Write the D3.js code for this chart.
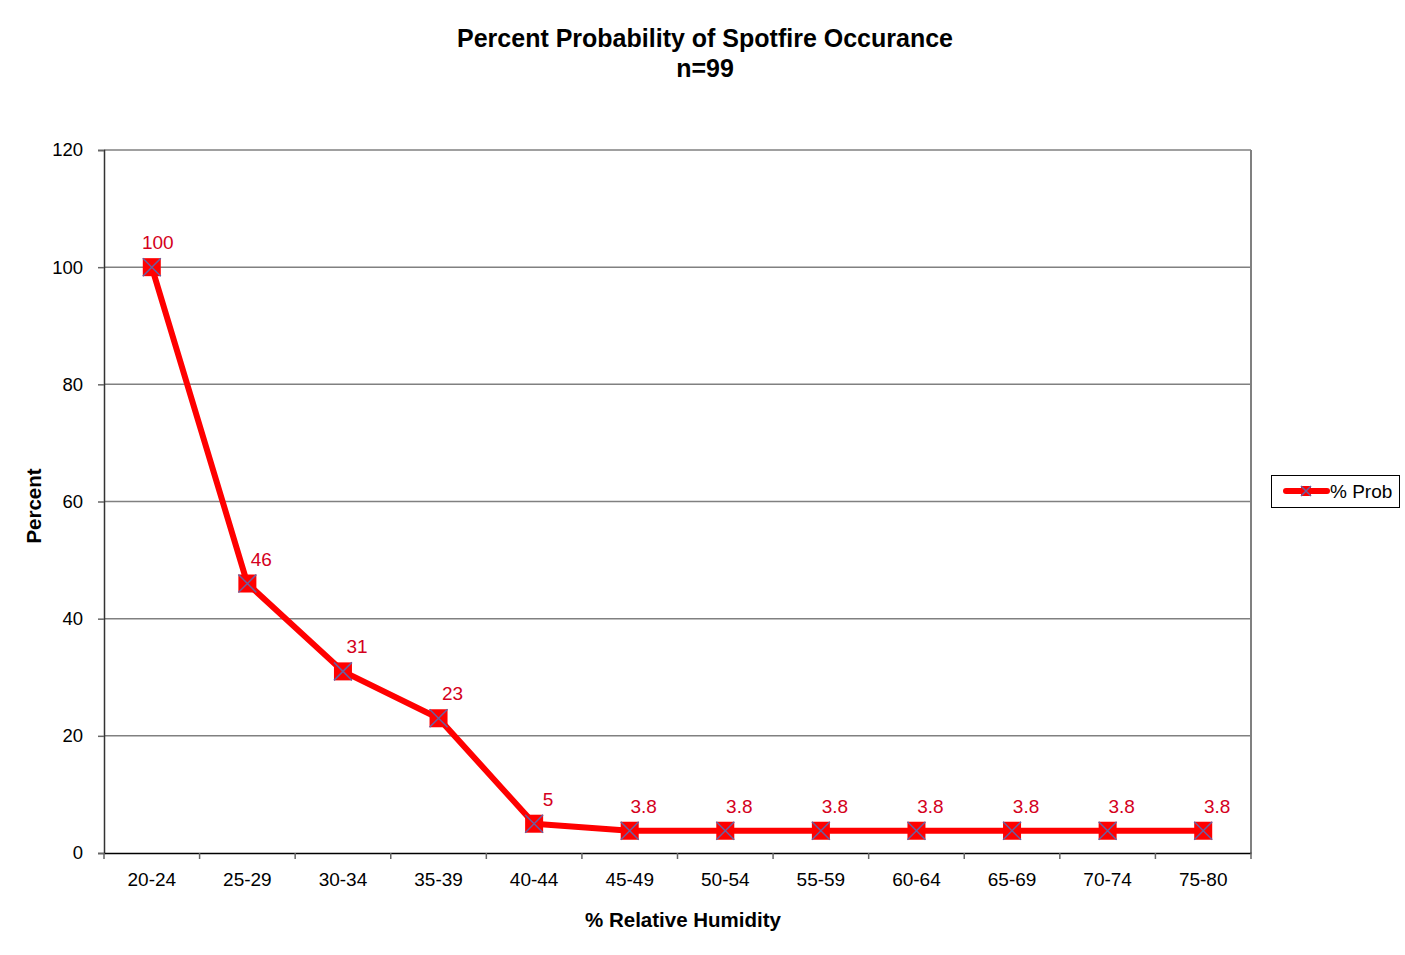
<!DOCTYPE html>
<html>
<head>
<meta charset="utf-8">
<script src="https://cdn.jsdelivr.net/npm/d3@7"></script>
<style>
  body { margin: 0; background: #fff; }
  svg text { font-family: "Liberation Sans", Arial, sans-serif; }
</style>
</head>
<body>
<svg id="chart"></svg>
<script>
var categories = ["20-24", "25-29", "30-34", "35-39", "40-44", "45-49", "50-54", "55-59", "60-64", "65-69", "70-74", "75-80"];
var probValues = [100, 46, 31, 23, 5, 3.8, 3.8, 3.8, 3.8, 3.8, 3.8, 3.8];
var yTicks = [0, 20, 40, 60, 80, 100, 120];

var svgWidth = 1405, svgHeight = 955;
var plotLeft = 104, plotRight = 1251, plotTop = 150, plotBottom = 853;

var svg = d3.select("#chart")
  .attr("width", svgWidth)
  .attr("height", svgHeight);

var xScale = d3.scaleBand()
  .domain(categories)
  .range([plotLeft, plotRight]);

var yScale = d3.scaleLinear()
  .domain([0, 120])
  .range([plotBottom, plotTop]);

// gridlines
svg.append("g")
  .selectAll("line")
  .data(yTicks.filter(function(d) { return d > 0; }))
  .enter()
  .append("line")
  .attr("x1", plotLeft).attr("x2", plotRight)
  .attr("y1", function(d) { return yScale(d); })
  .attr("y2", function(d) { return yScale(d); })
  .attr("stroke", "#808080")
  .attr("stroke-width", 1.5);

// right border
svg.append("line")
  .attr("x1", plotRight).attr("x2", plotRight)
  .attr("y1", plotTop).attr("y2", plotBottom)
  .attr("stroke", "#808080")
  .attr("stroke-width", 2);

// y axis
var yAxis = d3.axisLeft(yScale).tickValues(yTicks).tickSize(6).tickPadding(15);
var gy = svg.append("g")
  .attr("transform", "translate(" + plotLeft + ",0)")
  .call(yAxis);
gy.select(".domain").attr("stroke", "#333").attr("stroke-width", 1.5);
gy.selectAll(".tick line").attr("stroke", "#666").attr("stroke-width", 1.5);
gy.selectAll("text").attr("font-size", 18.5).attr("fill", "#000")
  .attr("font-family", "Liberation Sans, Arial, sans-serif");

// x axis
var xAxis = d3.axisBottom(xScale).tickSize(0).tickPadding(20);
var gx = svg.append("g")
  .attr("transform", "translate(0," + plotBottom + ")")
  .call(xAxis);
gx.select(".domain").attr("stroke", "#000").attr("stroke-width", 1.5);
gx.selectAll("text").attr("font-size", 19).attr("fill", "#000")
  .attr("font-family", "Liberation Sans, Arial, sans-serif");

// category boundary ticks
var boundaries = categories.map(function(c) { return xScale(c); }).concat([plotRight]);
svg.append("g")
  .selectAll("line")
  .data(boundaries)
  .enter()
  .append("line")
  .attr("x1", function(d) { return d; })
  .attr("x2", function(d) { return d; })
  .attr("y1", plotBottom).attr("y2", plotBottom + 6)
  .attr("stroke", "#666")
  .attr("stroke-width", 1.5);

// line
var line = d3.line()
  .x(function(d, i) { return xScale(categories[i]) + xScale.bandwidth() / 2; })
  .y(function(d) { return yScale(d); });

svg.append("path")
  .datum(probValues)
  .attr("d", line)
  .attr("fill", "none")
  .attr("stroke", "#ff0000")
  .attr("stroke-width", 6)
  .attr("stroke-linejoin", "round");

// markers
function drawMarker(g, cx, cy, s) {
  g.append("rect")
    .attr("x", cx - s).attr("y", cy - s)
    .attr("width", 2 * s).attr("height", 2 * s)
    .attr("fill", "#ff0000");
  g.append("path")
    .attr("d", "M" + (cx - s) + "," + (cy - s) + "L" + (cx + s) + "," + (cy + s) +
               "M" + (cx + s) + "," + (cy - s) + "L" + (cx - s) + "," + (cy + s))
    .attr("stroke", "#6a5fa0")
    .attr("stroke-width", 1.5);
}

var markers = svg.append("g");
probValues.forEach(function(d, i) {
  drawMarker(markers, xScale(categories[i]) + xScale.bandwidth() / 2, yScale(d), 9);
});

// data labels
svg.append("g")
  .selectAll("text")
  .data(probValues)
  .enter()
  .append("text")
  .attr("x", function(d, i) { return xScale(categories[i]) + xScale.bandwidth() / 2 + (i === 0 ? 6 : 14); })
  .attr("y", function(d) { return yScale(d) - 18; })
  .attr("text-anchor", "middle")
  .attr("font-size", 19)
  .attr("fill", "#d40020")
  .text(function(d) { return d; });

// title
svg.append("text")
  .attr("x", 705).attr("y", 47)
  .attr("text-anchor", "middle")
  .attr("font-size", 25).attr("font-weight", "bold")
  .text("Percent Probability of Spotfire Occurance");
svg.append("text")
  .attr("x", 705).attr("y", 77)
  .attr("text-anchor", "middle")
  .attr("font-size", 25).attr("font-weight", "bold")
  .text("n=99");

// axis titles
svg.append("text")
  .attr("transform", "translate(41,506) rotate(-90)")
  .attr("text-anchor", "middle")
  .attr("font-size", 20.5).attr("font-weight", "bold")
  .text("Percent");
svg.append("text")
  .attr("x", 683).attr("y", 927)
  .attr("text-anchor", "middle")
  .attr("font-size", 20.5).attr("font-weight", "bold")
  .text("% Relative Humidity");

// legend
var legend = svg.append("g");
legend.append("rect")
  .attr("x", 1271.5).attr("y", 475.5)
  .attr("width", 128).attr("height", 32)
  .attr("fill", "#fff").attr("stroke", "#000").attr("stroke-width", 1);
legend.append("line")
  .attr("x1", 1286).attr("x2", 1327)
  .attr("y1", 491).attr("y2", 491)
  .attr("stroke", "#ff0000").attr("stroke-width", 6)
  .attr("stroke-linecap", "round");
drawMarker(legend, 1306, 491, 5);
legend.append("text")
  .attr("x", 1330).attr("y", 498)
  .attr("font-size", 19)
  .text("% Prob");
</script>
</body>
</html>
